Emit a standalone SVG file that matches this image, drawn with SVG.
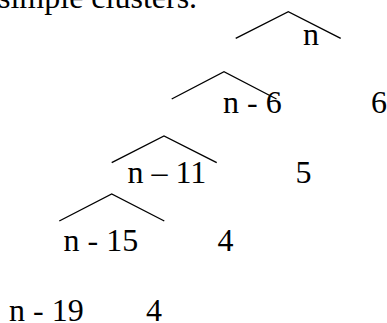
<svg xmlns="http://www.w3.org/2000/svg" width="387" height="323" viewBox="0 0 387 323">
<style>
text{font-family:"Liberation Serif","Times New Roman",serif;font-size:32px;fill:#000}
.w{fill:none;stroke:#000;stroke-width:1.4}
</style>
<rect width="387" height="323" fill="#fff"/>
<text x="-2" y="7.5">simple clusters.</text>
<g id="connectors">
<polyline class="w" points="235.7,38.3 288.3,11.7 340.7,38.3"/>
<polyline class="w" points="171.7,99 224,71.7 276.5,99"/>
<polyline class="w" points="111.7,162.7 164,136 216.7,162.7"/>
<polyline class="w" points="59.3,221 111.7,194 164.3,221"/>
</g>
<g id="n0"><text x="303" y="45">n</text></g>
<g id="n1"><text x="223" y="113">n - 6</text><text x="371" y="113">6</text></g>
<g id="n2"><text x="127.5" y="183">n – 11</text><text x="295.5" y="183">5</text></g>
<g id="n3"><text x="63.5" y="251">n - 15</text><text x="217.5" y="251">4</text></g>
<g id="n4"><text x="9" y="321">n - 19</text><text x="146" y="321">4</text></g>
</svg>
